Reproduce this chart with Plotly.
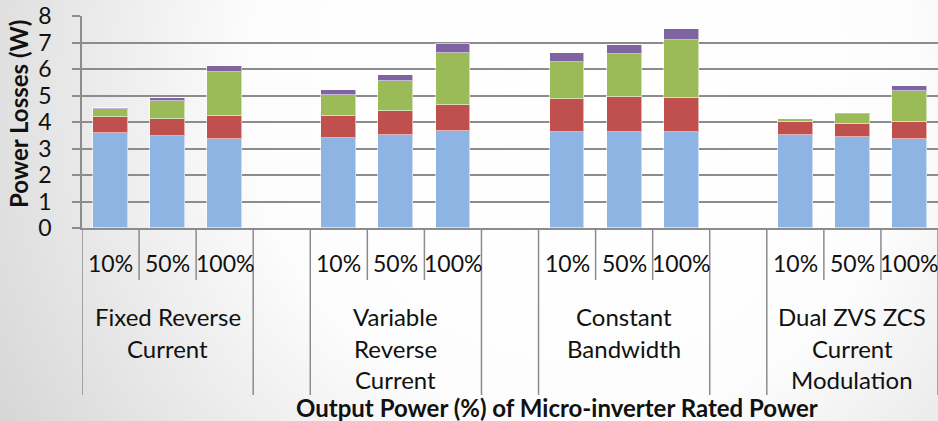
import base64
import plotly.graph_objects as go

# Loss breakdown (W) per modulation scheme and output power level
groups = ["Fixed Reverse<br>Current", "Variable<br>Reverse<br>Current",
          "Constant<br>Bandwidth", "Dual ZVS ZCS<br>Current<br>Modulation"]
levels = ["10%", "50%", "100%"]

loss_a = [3.57, 3.47, 3.37, 3.41, 3.52, 3.65, 3.61, 3.61, 3.61, 3.52, 3.43, 3.35]
loss_b = [0.62, 0.65, 0.84, 0.83, 0.90, 1.00, 1.25, 1.32, 1.28, 0.47, 0.48, 0.66]
loss_c = [0.29, 0.67, 1.69, 0.78, 1.14, 1.97, 1.42, 1.64, 2.22, 0.11, 0.38, 1.16]
loss_d = [0.04, 0.12, 0.22, 0.19, 0.23, 0.31, 0.31, 0.35, 0.40, 0.02, 0.05, 0.19]

y_ticks = [0, 1, 2, 3, 4, 5, 6, 7, 8]

FONT = "Lato"
W, H = 938, 421
ML, MR, MT, MB = 82, 0, 16, 193
PLOT_H = H - MT - MB

# each group takes three slots plus one empty slot as spacing
slot = 4
xpos = [g * slot + i for g in range(len(groups)) for i in range(len(levels))]
tick_text = [lv for _ in groups for lv in levels]

series = [
    (loss_a, "#8EB4E3"),
    (loss_b, "#C0504D"),
    (loss_c, "#9BBB59"),
    (loss_d, "#8064A2"),
]

fig = go.Figure()
for vals, col in series:
    fig.add_trace(go.Bar(
        x=xpos, y=vals, width=0.61,
        marker=dict(color=col, line=dict(color="rgba(255,255,255,0.55)", width=1)),
        showlegend=False, hoverinfo="y",
    ))

def py(px):
    """pixel offset below the x axis -> paper coordinate"""
    return -px / PLOT_H

shapes = []
line_col = "#8c8c8c"
for g in range(len(groups)):
    base = g * slot
    for b in (base - 0.5, base + 2.5):
        shapes.append(dict(type="line", xref="x", yref="paper", x0=b, x1=b,
                           y0=0, y1=py(167), line=dict(color=line_col, width=1.5)))
    for b in (base + 0.5, base + 1.5):
        shapes.append(dict(type="line", xref="x", yref="paper", x0=b, x1=b,
                           y0=0, y1=py(52), line=dict(color=line_col, width=1.5)))

annotations = []
# power-level labels under each bar
for xv, txt in zip(xpos, tick_text):
    annotations.append(dict(
        x=xv, xref="x", y=py(35), yref="paper", text=txt, showarrow=False,
        xanchor="center", yanchor="middle",
        font=dict(family=FONT, size=23, color="#111111"),
    ))
# scheme labels under each group
for g, label in enumerate(groups):
    for k, part in enumerate(label.split("<br>")):
        annotations.append(dict(
            x=g * slot + 1, xref="x", y=py(88 + 32 * k), yref="paper",
            text=part, showarrow=False, xanchor="center", yanchor="middle",
            font=dict(family=FONT, size=24, color="#111111"),
        ))

pw, ph = W - ML - MR, PLOT_H
annotations.append(dict(
    x=(557 - ML) / pw, xref="paper", y=py(407 - (H - MB)), yref="paper",
    text="<b>Output Power (%) of Micro-inverter Rated Power</b>",
    showarrow=False, xanchor="center", yanchor="middle",
    font=dict(family=FONT, size=24, color="#111111"),
))
annotations.append(dict(
    x=(18 - ML) / pw, xref="paper", y=(H - MB - 114) / ph, yref="paper",
    text="<b>Power Losses (W)</b>", textangle=-90, showarrow=False,
    xanchor="center", yanchor="middle",
    font=dict(family=FONT, size=24, color="#111111"),
))

# soft radial backdrop
svg = (
    f'<svg xmlns="http://www.w3.org/2000/svg" width="{W}" height="{H}">'
    '<defs><radialGradient id="g" cx="0.62" cy="0.22" r="0.78" '
    'gradientTransform="translate(0.62,0.22) scale(1,2.2) translate(-0.62,-0.22)">'
    '<stop offset="0" stop-color="#ffffff"/><stop offset="0.45" stop-color="#fdfdfd"/>'
    '<stop offset="1" stop-color="#cfcfcf"/></radialGradient></defs>'
    f'<rect width="{W}" height="{H}" fill="url(#g)"/></svg>'
)
src = "data:image/svg+xml;base64," + base64.b64encode(svg.encode()).decode()

fig.update_layout(
    width=W, height=H,
    margin=dict(l=ML, r=MR, t=MT, b=MB),
    paper_bgcolor="#ffffff", plot_bgcolor="rgba(0,0,0,0)",
    barmode="stack", bargap=0,
    font=dict(family=FONT, color="#111111"),
    shapes=shapes, annotations=annotations,
    images=[dict(source=src, xref="paper", yref="paper",
                 x=-ML / pw, y=1 + MT / ph, sizex=W / pw, sizey=H / ph,
                 xanchor="left", yanchor="top", sizing="stretch", layer="below")],
    xaxis=dict(range=[-0.5, len(groups) * slot - 1.5], showticklabels=False,
               ticks="", showgrid=False,
               zeroline=False, showline=True, linecolor=line_col, linewidth=1.5),
    yaxis=dict(range=[0, 8], tickmode="array", tickvals=y_ticks,
               showgrid=True, gridcolor="#8c8c8c", gridwidth=1.5,
               zeroline=False, showline=True, linecolor=line_col, linewidth=1.5,
               ticks="outside", ticklen=8, tickcolor=line_col, tickwidth=1.5,
               tickfont=dict(family=FONT, size=23, color="#111111"),
               ticklabelstandoff=16),
)

fig.write_html("out.html")
